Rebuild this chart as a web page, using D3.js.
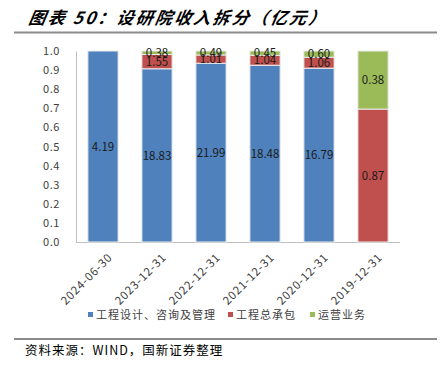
<!DOCTYPE html>
<html><head><meta charset="utf-8">
<script src="https://cdn.jsdelivr.net/npm/d3@7"></script>
<style>body{margin:0;background:#fff}svg{display:block}</style>
</head><body><svg id="c" width="443" height="375"></svg>
<script>
const categories = ["2024-06-30","2023-12-31","2022-12-31","2021-12-31","2020-12-31","2019-12-31"];
const seriesNames = ["工程设计、咨询及管理","工程总承包","运营业务"];
const design = [4.19, 18.83, 21.99, 18.48, 16.79, 0];
const epc = [0, 1.55, 1.01, 1.04, 1.06, 0.87];
const ops = [0, 0.38, 0.49, 0.45, 0.60, 0.38];
const yTicks = [0,0.1,0.2,0.3,0.4,0.5,0.6,0.7,0.8,0.9,1.0];
const colors = ["#4f81bd","#c0504d","#9bbb59"];

const svg = d3.select("#c");
const font = "'Noto Sans CJK SC', sans-serif";
const L = 76, R = 400, T = 51, B = 242;

// title
svg.append("text").attr("x", 28).attr("y", 24).attr("font-family", font)
  .attr("font-size", 17).attr("font-weight", "bold").attr("font-style", "italic")
  .attr("letter-spacing", 2.2)
  .attr("fill", "#000").attr("transform", "skewX(-10) translate(4,0)")
  .text("图表 50：设研院收入拆分（亿元）");
svg.append("line").attr("x1", 14).attr("x2", 437).attr("y1", 32.5).attr("y2", 32.5)
  .attr("stroke", "#8c8c8c").attr("stroke-width", 2);

const x = d3.scaleBand().domain(categories).range([L, R]).paddingInner(0.44).paddingOuter(0.22);
const y = d3.scaleLinear().domain([0, 1]).range([B, T]);

const rows = categories.map((c, i) => {
  const vals = [design[i], epc[i], ops[i]];
  const tot = d3.sum(vals);
  return {cat: c, vals, tot};
});
const stacked = rows.map(r => {
  let acc = 0;
  return r.vals.map((v, k) => {
    const y0 = acc / r.tot; acc += v; const y1 = acc / r.tot;
    return {cat: r.cat, v, y0, y1, k};
  });
}).flat().filter(d => d.v > 0);

// axes
const ya = d3.axisLeft(y).tickValues(yTicks).tickFormat(d3.format(".1f")).tickSize(0).tickPadding(16);
const gy = svg.append("g").attr("transform", `translate(${L},0)`).call(ya);
gy.select(".domain").attr("stroke", "#bfbfbf");
gy.selectAll("text").attr("font-family", font).attr("font-size", 11).attr("fill", "#404040").attr("letter-spacing", 0.6);

const xa = d3.axisBottom(x).tickSize(0).tickPadding(6);
const gx = svg.append("g").attr("transform", `translate(0,${B})`).call(xa);
gx.select(".domain").attr("stroke", "#bfbfbf").attr("d", `M${L},0.5H${R}`);
gx.selectAll("text").attr("font-family", font).attr("font-size", 11.5).attr("fill", "#404040")
  .attr("letter-spacing", 0.8)
  .attr("text-anchor", "end").attr("dy", "0.35em")
  .attr("transform", "translate(3,9) rotate(-45)");

// bars
svg.append("g").selectAll("rect").data(stacked).join("rect")
  .attr("x", d => x(d.cat)).attr("width", x.bandwidth())
  .attr("y", d => y(d.y1)).attr("height", d => y(d.y0) - y(d.y1))
  .attr("fill", d => colors[d.k]).attr("stroke", "#ececec").attr("stroke-width", 1);

svg.append("g").selectAll("text").data(stacked).join("text")
  .attr("x", d => x(d.cat) + x.bandwidth() / 2)
  .attr("y", d => (y(d.y0) + y(d.y1)) / 2)
  .attr("dy", "0.36em").attr("text-anchor", "middle")
  .attr("font-family", font).attr("font-size", 11.5).attr("fill", "#1a1a1a")
  .text(d => d.v.toFixed(2));

// legend
const lg = svg.append("g");
const lx = [88, 228, 310];
seriesNames.forEach((n, i) => {
  lg.append("rect").attr("x", lx[i]).attr("y", 312).attr("width", 5).attr("height", 5).attr("fill", colors[i]);
  lg.append("text").attr("x", lx[i] + 8).attr("y", 315).attr("dy", "0.35em")
    .attr("font-family", font).attr("font-size", 11).attr("fill", "#404040").attr("letter-spacing", 1).text(n);
});

// footer
svg.append("line").attr("x1", 14).attr("x2", 437).attr("y1", 339).attr("y2", 339)
  .attr("stroke", "#8c8c8c").attr("stroke-width", 2);
svg.append("text").attr("x", 25).attr("y", 355).attr("font-family", font).attr("font-size", 12.5)
  .attr("letter-spacing", 1).attr("fill", "#000").text("资料来源：WIND，国新证券整理");
</script></body></html>
